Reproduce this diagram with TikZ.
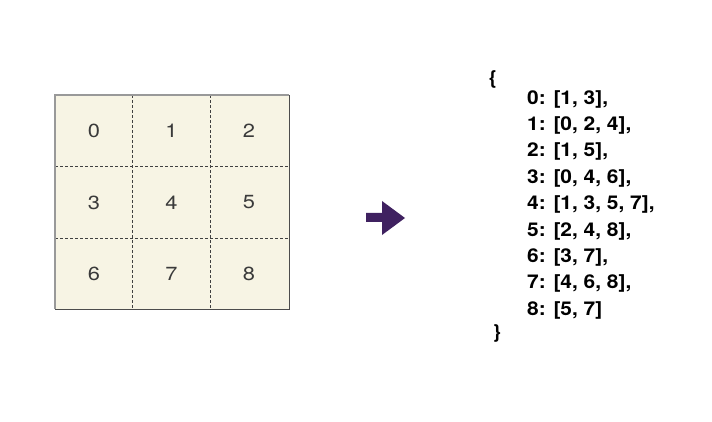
\documentclass[tikz,border=0pt]{standalone}
\usepackage{fontspec}
\setmainfont[FakeStretch=1.15]{TeX Gyre Heros}
\newfontfamily\listfont[FakeStretch=1.1]{TeX Gyre Heros}
\usetikzlibrary{positioning}
\definecolor{gridfill}{HTML}{F7F4E4}
\definecolor{cellink}{HTML}{3A3A3A}
\definecolor{arrowpurple}{HTML}{3F2160}

\begin{document}
\begin{tikzpicture}[x=1pt,y=-1pt,
  cell/.style={font=\fontsize{19}{19}\selectfont,text=cellink,inner sep=0pt},
  adjline/.style={font=\listfont\bfseries\fontsize{19}{19}\selectfont,anchor=west,inner sep=0pt},
  brace/.style={font=\listfont\bfseries\fontsize{19}{19}\selectfont,inner sep=0pt}]
\useasboundingbox[fill=white] (0,0) rectangle (712,422);
% grid of cells
\fill[gridfill] (55,95) rectangle (289,309);
\draw[densely dashed,line width=0.5pt,black!75] (132,95)--(132,309) (210,95)--(210,309)
  (55,166)--(289,166) (55,238)--(289,238);
\draw[black!40,line width=1.3pt] (55,309)--(55,95)--(289,95);
\draw[black!70,line width=0.8pt] (55,309)--(289,309)--(289,95);
\foreach \n in {0,...,8}{
  \pgfmathtruncatemacro\col{mod(\n,3)}
  \pgfmathtruncatemacro\row{\n/3}
  \node[cell] (c\n) at (94+77.5*\col,131+71.5*\row) {\n};
}
% arrow
\fill[arrowpurple] (366,213)--(382,213)--(382,201)--(405,218)--(382,235)--(382,222)--(366,222)--cycle;
% adjacency list
\node[brace] (open) at (493,79) {\{};
\foreach \k/\txt in {0/{[1, 3],},1/{[0, 2, 4],},2/{[1, 5],},3/{[0, 4, 6],},4/{[1, 3, 5, 7],},
  5/{[2, 4, 8],},6/{[3, 7],},7/{[4, 6, 8],},8/{[5, 7]}}
  \node[adjline] (l\k) at (527,99+26.4*\k) {\k: \txt};
\node[brace] (close) at (497,333) {\}};
\end{tikzpicture}
\end{document}
